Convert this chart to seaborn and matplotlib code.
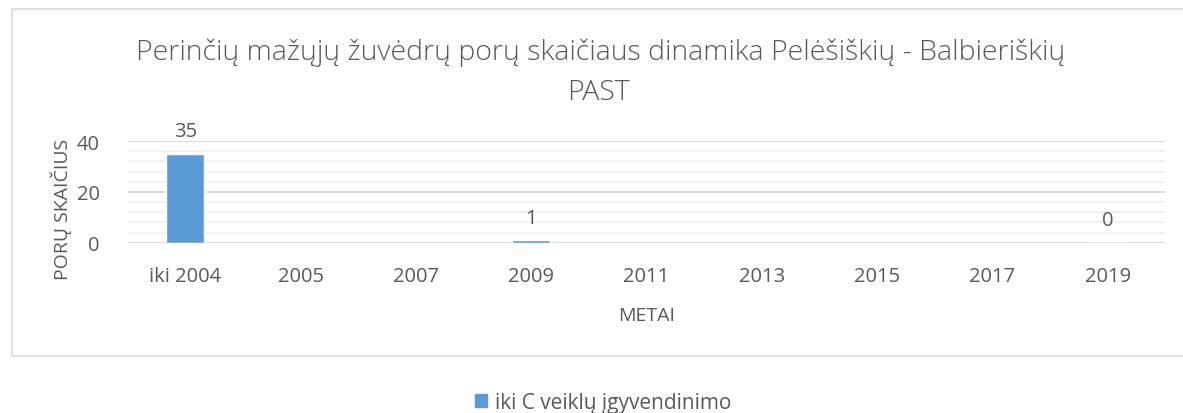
import numpy as np
import pandas as pd
import matplotlib
matplotlib.use("Agg")
import matplotlib.pyplot as plt
import matplotlib.patches as mpatches
import seaborn as sns

# data
years = ['iki 2004', '2005', '2007', '2009', '2011', '2013', '2015', '2017', '2019']
pairs = [35, np.nan, np.nan, 1, np.nan, np.nan, np.nan, np.nan, 0]
series_name = 'iki C veiklų įgyvendinimo'

df = pd.DataFrame({'year': years, 'pairs': pairs, 'series': series_name})

sns.set_style("white")
plt.rcParams['font.family'] = ['Open Sans', 'DejaVu Sans']
txt = '#595959'

fig = plt.figure(figsize=(11.83, 4.14), dpi=100)
ax = fig.add_axes([0.108, 0.411, 0.877, 0.246])

sns.barplot(data=df, x='year', y='pairs', hue='series', order=years,
            palette=['#5B9BD5'], saturation=1, width=0.33, ax=ax, legend=False)

ax.set_ylim(0, 40)
ax.set_yticks([0, 20, 40])
ax.set_yticks(np.arange(0, 41, 4), minor=True)
ax.grid(axis='y', which='minor', color='#EDEDED', lw=1.2, zorder=0)
ax.grid(axis='y', which='major', color='#D9D9D9', lw=1.4, zorder=0)
ax.set_axisbelow(True)
for s in ax.spines.values():
    s.set_visible(False)
ax.tick_params(axis='both', which='both', length=0, labelsize=14.5, labelcolor=txt)
ax.tick_params(axis='x', pad=17)
ax.tick_params(axis='y', pad=20)

ax.set_xlabel('METAI', fontsize=14, color=txt, labelpad=14)
ax.set_ylabel('PORŲ SKAIČIUS', fontsize=14, color=txt)
ax.yaxis.set_label_coords(-0.054, 0.34)

# value labels only where there is data
for p in ax.patches:
    h = p.get_height()
    if np.isnan(h):
        continue
    ax.annotate(f'{int(h)}', (p.get_x() + p.get_width() / 2, h),
                xytext=(0, 9), textcoords='offset points', ha='center', va='bottom',
                fontsize=14.5, color=txt, annotation_clip=False)

fig.text(0.508, 0.872, 'Perinčių mažųjų žuvėdrų porų skaičiaus dinamika Pelėšiškių - Balbieriškių',
         ha='center', va='center', fontsize=20.5, color=txt, fontweight='light')
fig.text(0.506, 0.776, 'PAST', ha='center', va='center', fontsize=20.5, color=txt,
         fontweight='light')

# chart border like the spreadsheet frame
fig.patches.append(mpatches.Rectangle((0.010, 0.138), 1.0, 0.838, transform=fig.transFigure,
                                      fill=False, ec='#D9D9D9', lw=1.2))

handle = mpatches.Patch(color='#5B9BD5', label=series_name)
leg = fig.legend(handles=[handle], loc='center', bbox_to_anchor=(0.51, 0.026),
                 frameon=False, fontsize=15, handlelength=0.55, handleheight=0.55,
                 handletextpad=0.4)
for t in leg.get_texts():
    t.set_color(txt)

fig.savefig('out.png', dpi=100)
